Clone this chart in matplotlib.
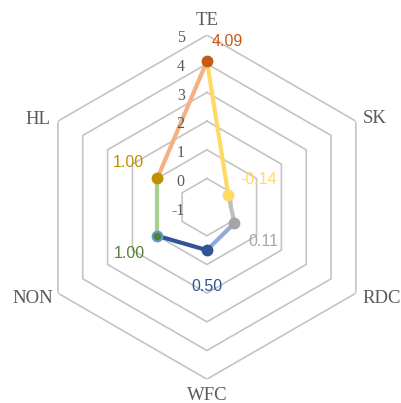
import numpy as np
import matplotlib.pyplot as plt

categories = ["TE", "SK", "RDC", "WFC", "NON", "HL"]
values = [4.09, -0.14, 0.11, 0.50, 1.00, 1.00]
r_ticks = [-1, 0, 1, 2, 3, 4, 5]

# colour of the segment leaving each point (towards the next one)
seg_colors = ["#FFD966", "#BFBFBF", "#8FAADC", "#2F5597", "#A9D18E", "#F4B183"]
point_colors = ["#C55A11", "#FFD966", "#A5A5A5", "#2F5597", "#548235", "#BF9000"]
point_edges = ["#C55A11", "#FFD966", "#A5A5A5", "#2F5597", "#5B9BD5", "#BF9000"]
label_colors = ["#C55A11", "#FFD966", "#A5A5A5", "#2F5597", "#548235", "#BF9000"]
label_offsets = [(15, 14), (21.5, 11), (21, -13), (0, -26), (-20, -12.5), (-21, 11.5)]

# category label placement around the outer ring (offset in points, h-align)
cat_offsets = [(0, 7.2), (5, -1.5), (5, -7), (0, -15.3), (-3.6, -7), (-5.5, -2)]
cat_ha = ["center", "left", "left", "center", "right", "right"]

grid_color = "#C4C4C4"
text_gray = "#595959"

n = len(categories)
theta = np.linspace(0, 2 * np.pi, n, endpoint=False)

fig = plt.figure(figsize=(4.01, 4.03), dpi=100)
ax = fig.add_axes([0.087, 0.059, 0.858, 0.854], projection="polar")
ax.set_theta_zero_location("N")
ax.set_theta_direction(-1)
ax.set_ylim(r_ticks[0], r_ticks[-1])
ax.grid(False)
ax.spines["polar"].set_visible(False)
ax.set_yticks([])
ax.set_xticks([])

# hexagonal grid rings
ring_theta = np.append(theta, theta[0])
for r in r_ticks[1:]:
    ax.plot(ring_theta, [r] * (n + 1), color=grid_color, lw=1.2, zorder=1)

# radial scale labels beside the first spoke, drawn above the data lines
for r in r_ticks:
    ax.annotate(str(r), (0, r), xytext=(-16, -5.3), textcoords="offset points",
                ha="right", va="baseline", fontsize=11.5,
                family="Liberation Serif", color=text_gray, zorder=5)

# category names just outside the outer ring
for i, name in enumerate(categories):
    ax.annotate(name, (theta[i], r_ticks[-1]), xytext=cat_offsets[i],
                textcoords="offset points", ha=cat_ha[i], va="baseline",
                fontsize=13.5, family="Liberation Serif", color=text_gray,
                annotation_clip=False)

# data outline, one coloured segment per edge
for i in range(n):
    j = (i + 1) % n
    ax.plot([theta[i], theta[j]], [values[i], values[j]],
            color=seg_colors[i], lw=3, solid_capstyle="round", zorder=3)

for i in range(n):
    ax.plot(theta[i], values[i], "o", ms=7, color=point_colors[i],
            mec=point_edges[i], mew=1.5, zorder=4)
    ax.annotate(f"{values[i]:.2f}", (theta[i], values[i]),
                xytext=label_offsets[i], textcoords="offset points",
                ha="center", va="center", fontsize=11.5,
                family="Liberation Sans", color=label_colors[i], zorder=5)

fig.savefig("out.png", dpi=100)
